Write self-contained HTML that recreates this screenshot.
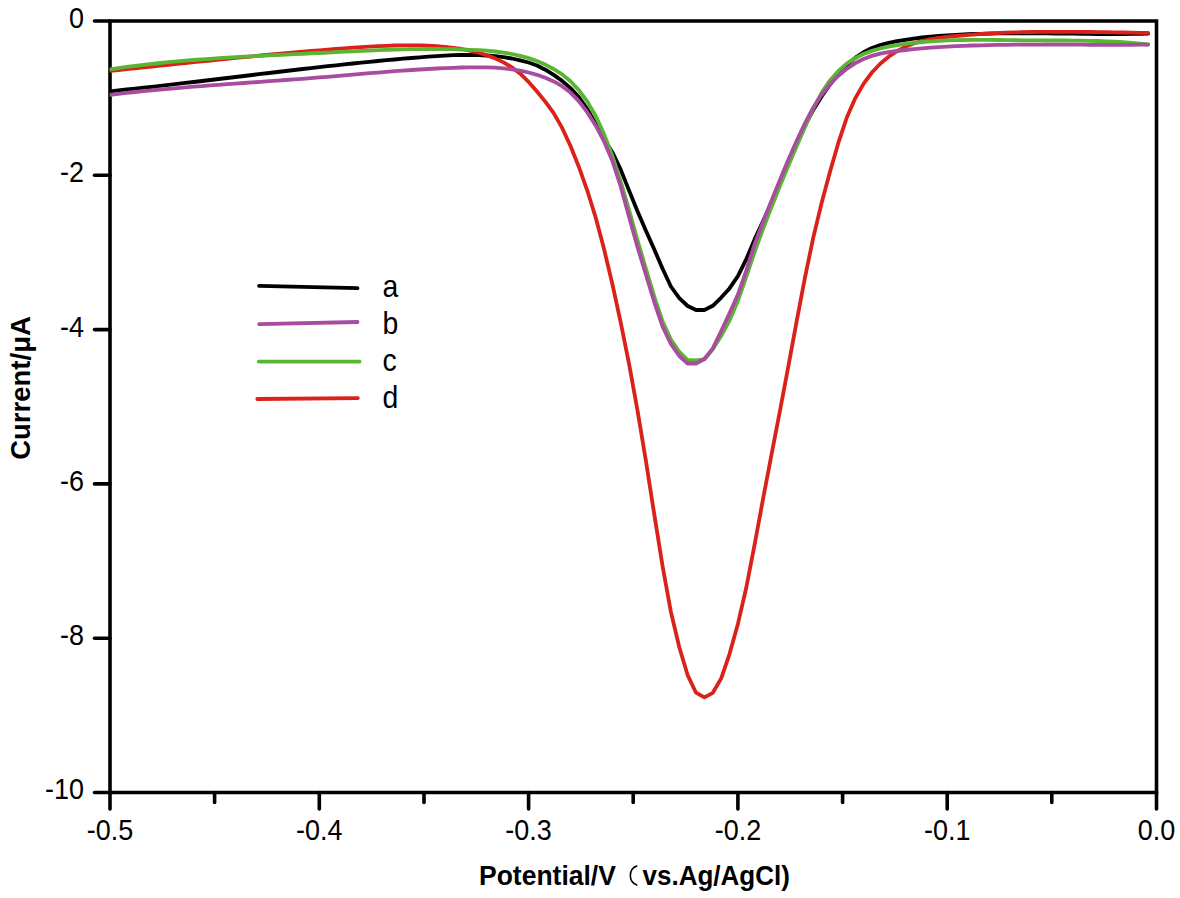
<!DOCTYPE html>
<html><head><meta charset="utf-8"><style>
html,body{margin:0;padding:0;background:#fff;width:1180px;height:898px;overflow:hidden;}
svg{display:block;}
</style></head><body>
<svg width="1180" height="898" viewBox="0 0 1180 898">
<rect width="1180" height="898" fill="#fff"/>
<g stroke="#000" stroke-width="3.6" fill="none" stroke-linecap="round">
<path d="M110.0,21.0 H1156.5 V792.5 H110.0 Z" stroke-linecap="butt" stroke-linejoin="miter"/>
<line x1="94.5" y1="21.0" x2="110.0" y2="21.0"/>
<line x1="94.5" y1="175.3" x2="110.0" y2="175.3"/>
<line x1="94.5" y1="329.6" x2="110.0" y2="329.6"/>
<line x1="94.5" y1="483.9" x2="110.0" y2="483.9"/>
<line x1="94.5" y1="638.2" x2="110.0" y2="638.2"/>
<line x1="94.5" y1="792.5" x2="110.0" y2="792.5"/>
<line x1="110.0" y1="792.5" x2="110.0" y2="809.0"/>
<line x1="214.6" y1="792.5" x2="214.6" y2="802.5"/>
<line x1="319.3" y1="792.5" x2="319.3" y2="809.0"/>
<line x1="424.0" y1="792.5" x2="424.0" y2="802.5"/>
<line x1="528.6" y1="792.5" x2="528.6" y2="809.0"/>
<line x1="633.2" y1="792.5" x2="633.2" y2="802.5"/>
<line x1="737.9" y1="792.5" x2="737.9" y2="809.0"/>
<line x1="842.6" y1="792.5" x2="842.6" y2="802.5"/>
<line x1="947.2" y1="792.5" x2="947.2" y2="809.0"/>
<line x1="1051.8" y1="792.5" x2="1051.8" y2="802.5"/>
<line x1="1156.5" y1="792.5" x2="1156.5" y2="809.0"/>
</g>
<clipPath id="pc"><rect x="109.6" y="0" width="1070" height="898"/></clipPath>
<g fill="none" stroke-width="3.8" stroke-linejoin="round" stroke-linecap="round" clip-path="url(#pc)">
<path d="M110.0,91.3 L118.4,90.4 L126.7,89.5 L135.1,88.6 L143.5,87.7 L151.9,86.8 L160.2,85.8 L168.6,84.9 L177.0,83.9 L185.3,82.9 L193.7,82.0 L202.1,81.0 L210.5,80.0 L218.8,79.0 L227.2,78.0 L235.6,77.0 L244.0,76.0 L252.3,75.0 L260.7,73.9 L269.1,73.0 L277.4,72.0 L285.8,71.0 L294.2,70.0 L302.6,69.0 L310.9,68.1 L319.3,67.1 L327.7,66.2 L336.0,65.3 L344.4,64.4 L352.8,63.5 L361.2,62.7 L369.5,61.8 L377.9,61.0 L386.3,60.2 L394.6,59.5 L403.0,58.7 L411.4,58.0 L419.8,57.3 L428.1,56.7 L436.5,56.1 L444.9,55.6 L453.3,55.2 L461.6,55.0 L470.0,55.0 L478.4,55.1 L486.7,55.5 L495.1,56.2 L503.5,57.2 L511.9,58.5 L520.2,60.3 L528.6,62.5 L537.0,65.5 L545.3,69.7 L553.7,74.9 L562.1,80.9 L570.5,88.1 L578.8,97.1 L587.2,108.9 L595.6,123.8 L603.9,138.8 L612.3,152.2 L620.7,169.6 L629.1,190.6 L637.4,211.0 L645.8,230.4 L654.2,249.3 L662.6,268.8 L670.9,286.5 L679.3,298.1 L687.7,306.0 L696.0,310.0 L704.4,310.0 L712.8,305.8 L721.2,297.6 L729.5,288.4 L737.9,276.1 L746.3,259.1 L754.6,239.4 L763.0,221.3 L771.4,202.5 L779.8,182.5 L788.1,162.2 L796.5,143.0 L804.9,125.5 L813.2,110.1 L821.6,96.4 L830.0,84.5 L838.4,74.0 L846.7,65.1 L855.1,57.9 L863.5,52.2 L871.9,48.0 L880.2,45.0 L888.6,42.9 L897.0,41.2 L905.3,39.8 L913.7,38.6 L922.1,37.5 L930.5,36.7 L938.8,35.9 L947.2,35.3 L955.6,34.8 L963.9,34.4 L972.3,34.0 L980.7,33.8 L989.1,33.6 L997.4,33.4 L1005.8,33.3 L1014.2,33.3 L1022.5,33.3 L1030.9,33.3 L1039.3,33.4 L1047.7,33.4 L1056.0,33.5 L1064.4,33.6 L1072.8,33.7 L1081.2,33.8 L1089.5,33.9 L1097.9,34.0 L1106.3,34.0 L1114.6,34.0 L1123.0,34.0 L1131.4,33.9 L1139.8,33.8 L1148.1,33.6" stroke="#000000"/>
<path d="M110.0,70.9 L118.4,70.0 L126.7,69.2 L135.1,68.3 L143.5,67.4 L151.9,66.6 L160.2,65.7 L168.6,64.8 L177.0,63.9 L185.3,63.1 L193.7,62.2 L202.1,61.3 L210.5,60.5 L218.8,59.6 L227.2,58.8 L235.6,57.9 L244.0,57.1 L252.3,56.3 L260.7,55.5 L269.1,54.7 L277.4,53.9 L285.8,53.1 L294.2,52.4 L302.6,51.7 L310.9,50.9 L319.3,50.3 L327.7,49.6 L336.0,48.9 L344.4,48.3 L352.8,47.7 L361.2,47.2 L369.5,46.6 L377.9,46.2 L386.3,45.8 L394.6,45.5 L403.0,45.3 L411.4,45.3 L419.8,45.4 L428.1,45.7 L436.5,46.2 L444.9,46.9 L453.3,47.8 L461.6,49.0 L470.0,50.6 L478.4,52.6 L486.7,55.2 L495.1,58.4 L503.5,62.4 L511.9,67.3 L520.2,73.7 L528.6,81.9 L537.0,91.5 L545.3,101.6 L553.7,113.1 L562.1,127.9 L570.5,146.0 L578.8,166.7 L587.2,190.3 L595.6,217.3 L603.9,248.5 L612.3,283.8 L620.7,322.4 L629.1,364.1 L637.4,409.8 L645.8,460.3 L654.2,513.9 L662.6,566.2 L670.9,611.9 L679.3,647.2 L687.7,675.3 L696.0,692.7 L704.4,697.3 L712.8,692.8 L721.2,678.4 L729.5,654.1 L737.9,623.9 L746.3,587.5 L754.6,544.6 L763.0,499.2 L771.4,455.1 L779.8,411.7 L788.1,367.6 L796.5,322.1 L804.9,277.9 L813.2,237.9 L821.6,203.1 L830.0,171.8 L838.4,142.7 L846.7,117.8 L855.1,98.6 L863.5,83.9 L871.9,72.5 L880.2,63.7 L888.6,56.7 L897.0,51.1 L905.3,46.7 L913.7,43.4 L922.1,41.0 L930.5,39.2 L938.8,37.9 L947.2,36.9 L955.6,36.0 L963.9,35.3 L972.3,34.6 L980.7,34.0 L989.1,33.5 L997.4,33.1 L1005.8,32.7 L1014.2,32.4 L1022.5,32.2 L1030.9,32.0 L1039.3,31.9 L1047.7,31.8 L1056.0,31.8 L1064.4,31.8 L1072.8,31.8 L1081.2,31.9 L1089.5,32.0 L1097.9,32.1 L1106.3,32.2 L1114.6,32.4 L1123.0,32.5 L1131.4,32.6 L1139.8,32.8 L1148.1,32.9" stroke="#DA221A"/>
<path d="M110.0,69.3 L118.4,68.1 L126.7,66.9 L135.1,65.8 L143.5,64.8 L151.9,63.8 L160.2,63.0 L168.6,62.1 L177.0,61.4 L185.3,60.6 L193.7,60.0 L202.1,59.3 L210.5,58.8 L218.8,58.2 L227.2,57.7 L235.6,57.2 L244.0,56.7 L252.3,56.3 L260.7,55.9 L269.1,55.4 L277.4,55.0 L285.8,54.6 L294.2,54.2 L302.6,53.8 L310.9,53.4 L319.3,53.0 L327.7,52.6 L336.0,52.2 L344.4,51.7 L352.8,51.3 L361.2,50.9 L369.5,50.6 L377.9,50.2 L386.3,49.9 L394.6,49.6 L403.0,49.4 L411.4,49.2 L419.8,49.1 L428.1,49.0 L436.5,49.0 L444.9,49.1 L453.3,49.2 L461.6,49.5 L470.0,49.8 L478.4,50.2 L486.7,50.7 L495.1,51.5 L503.5,52.6 L511.9,54.0 L520.2,55.8 L528.6,58.1 L537.0,61.0 L545.3,64.6 L553.7,69.0 L562.1,74.4 L570.5,81.3 L578.8,90.1 L587.2,101.4 L595.6,115.8 L603.9,133.7 L612.3,155.8 L620.7,181.6 L629.1,210.4 L637.4,239.9 L645.8,268.4 L654.2,296.3 L662.6,321.6 L670.9,339.5 L679.3,351.9 L687.7,360.0 L696.0,360.3 L704.4,359.3 L712.8,349.3 L721.2,335.8 L729.5,320.6 L737.9,300.9 L746.3,276.6 L754.6,252.0 L763.0,229.0 L771.4,207.2 L779.8,186.4 L788.1,166.2 L796.5,146.6 L804.9,127.4 L813.2,108.7 L821.6,92.8 L830.0,80.4 L838.4,70.9 L846.7,63.6 L855.1,58.1 L863.5,54.0 L871.9,50.9 L880.2,48.5 L888.6,46.7 L897.0,45.2 L905.3,43.9 L913.7,42.9 L922.1,42.0 L930.5,41.3 L938.8,40.8 L947.2,40.4 L955.6,40.1 L963.9,40.0 L972.3,39.9 L980.7,39.8 L989.1,39.9 L997.4,40.0 L1005.8,40.1 L1014.2,40.2 L1022.5,40.3 L1030.9,40.4 L1039.3,40.4 L1047.7,40.5 L1056.0,40.5 L1064.4,40.5 L1072.8,40.6 L1081.2,40.7 L1089.5,40.8 L1097.9,41.0 L1106.3,41.3 L1114.6,41.7 L1123.0,42.2 L1131.4,42.8 L1139.8,43.6 L1148.1,44.5" stroke="#5AB533"/>
<path d="M110.0,94.8 L118.4,93.8 L126.7,92.9 L135.1,92.0 L143.5,91.1 L151.9,90.3 L160.2,89.5 L168.6,88.8 L177.0,88.1 L185.3,87.4 L193.7,86.7 L202.1,86.1 L210.5,85.4 L218.8,84.8 L227.2,84.2 L235.6,83.6 L244.0,83.0 L252.3,82.4 L260.7,81.8 L269.1,81.2 L277.4,80.6 L285.8,80.0 L294.2,79.4 L302.6,78.8 L310.9,78.1 L319.3,77.4 L327.7,76.8 L336.0,76.1 L344.4,75.3 L352.8,74.6 L361.2,73.9 L369.5,73.2 L377.9,72.6 L386.3,71.9 L394.6,71.2 L403.0,70.6 L411.4,70.0 L419.8,69.5 L428.1,69.0 L436.5,68.5 L444.9,68.1 L453.3,67.8 L461.6,67.5 L470.0,67.3 L478.4,67.3 L486.7,67.4 L495.1,67.7 L503.5,68.4 L511.9,69.4 L520.2,70.7 L528.6,72.5 L537.0,74.8 L545.3,77.7 L553.7,81.4 L562.1,86.2 L570.5,92.6 L578.8,101.1 L587.2,112.2 L595.6,125.4 L603.9,141.0 L612.3,160.7 L620.7,186.4 L629.1,217.1 L637.4,246.7 L645.8,274.2 L654.2,301.8 L662.6,326.7 L670.9,343.8 L679.3,356.0 L687.7,363.5 L696.0,363.5 L704.4,359.0 L712.8,348.3 L721.2,331.2 L729.5,313.4 L737.9,294.6 L746.3,270.6 L754.6,244.2 L763.0,222.0 L771.4,200.9 L779.8,180.2 L788.1,160.2 L796.5,141.2 L804.9,123.3 L813.2,107.7 L821.6,94.7 L830.0,84.2 L838.4,75.7 L846.7,68.8 L855.1,63.3 L863.5,59.0 L871.9,55.9 L880.2,53.7 L888.6,52.2 L897.0,51.0 L905.3,50.0 L913.7,49.1 L922.1,48.4 L930.5,47.7 L938.8,47.1 L947.2,46.6 L955.6,46.2 L963.9,45.8 L972.3,45.5 L980.7,45.3 L989.1,45.1 L997.4,44.9 L1005.8,44.8 L1014.2,44.7 L1022.5,44.6 L1030.9,44.6 L1039.3,44.6 L1047.7,44.6 L1056.0,44.6 L1064.4,44.6 L1072.8,44.7 L1081.2,44.7 L1089.5,44.8 L1097.9,44.8 L1106.3,44.8 L1114.6,44.8 L1123.0,44.8 L1131.4,44.8 L1139.8,44.7 L1148.1,44.6" stroke="#A84C9F"/>
</g>
<g font-family='"Liberation Sans", sans-serif' font-size="29.00" fill="#000">
<text transform="translate(84,27.9) scale(0.930,1)" text-anchor="end">0</text>
<text transform="translate(84,182.2) scale(0.930,1)" text-anchor="end">-2</text>
<text transform="translate(84,336.5) scale(0.930,1)" text-anchor="end">-4</text>
<text transform="translate(84,490.8) scale(0.930,1)" text-anchor="end">-6</text>
<text transform="translate(84,645.1) scale(0.930,1)" text-anchor="end">-8</text>
<text transform="translate(84,799.4) scale(0.930,1)" text-anchor="end">-10</text>
<text transform="translate(110.0,839.5) scale(0.930,1)" text-anchor="middle">-0.5</text>
<text transform="translate(319.3,839.5) scale(0.930,1)" text-anchor="middle">-0.4</text>
<text transform="translate(528.6,839.5) scale(0.930,1)" text-anchor="middle">-0.3</text>
<text transform="translate(737.9,839.5) scale(0.930,1)" text-anchor="middle">-0.2</text>
<text transform="translate(947.2,839.5) scale(0.930,1)" text-anchor="middle">-0.1</text>
<text transform="translate(1156.5,839.5) scale(0.930,1)" text-anchor="middle">0.0</text>
</g>
<text transform="translate(479,885) scale(0.946,1)" font-family='"Liberation Sans", sans-serif' font-size="28" font-weight="bold">Potential/V</text>
<path d="M637.3,865.8 A10.3,10.3 0 0 0 637.3,885.3" fill="none" stroke="#000" stroke-width="1.6"/>
<text transform="translate(642.5,885) scale(0.93,1)" font-family='"Liberation Sans", sans-serif' font-size="28" font-weight="bold">vs.Ag/AgCl)</text>
<text transform="translate(29.5,388) rotate(-90) scale(0.965,1)" text-anchor="middle" font-family='"Liberation Sans", sans-serif' font-size="28.5" font-weight="bold">Current/μA</text>
<g stroke-width="3.8" stroke-linecap="round">
<line x1="259.0" y1="285.8" x2="357.5" y2="288.2" stroke="#000000"/>
<line x1="259.2" y1="324.2" x2="357.5" y2="322.0" stroke="#A84C9F"/>
<line x1="258.8" y1="361.6" x2="359.6" y2="361.6" stroke="#5AB533"/>
<line x1="257.3" y1="399.0" x2="357.8" y2="398.1" stroke="#DA221A"/>
</g>
<g font-family='"Liberation Sans", sans-serif' font-size="30.5">
<text transform="translate(382.5,296.5) scale(0.93,1)">a</text>
<text transform="translate(382.5,333.5) scale(0.93,1)">b</text>
<text transform="translate(382.5,370.5) scale(0.93,1)">c</text>
<text transform="translate(382.5,407.5) scale(0.93,1)">d</text>
</g>
</svg>
</body></html>
